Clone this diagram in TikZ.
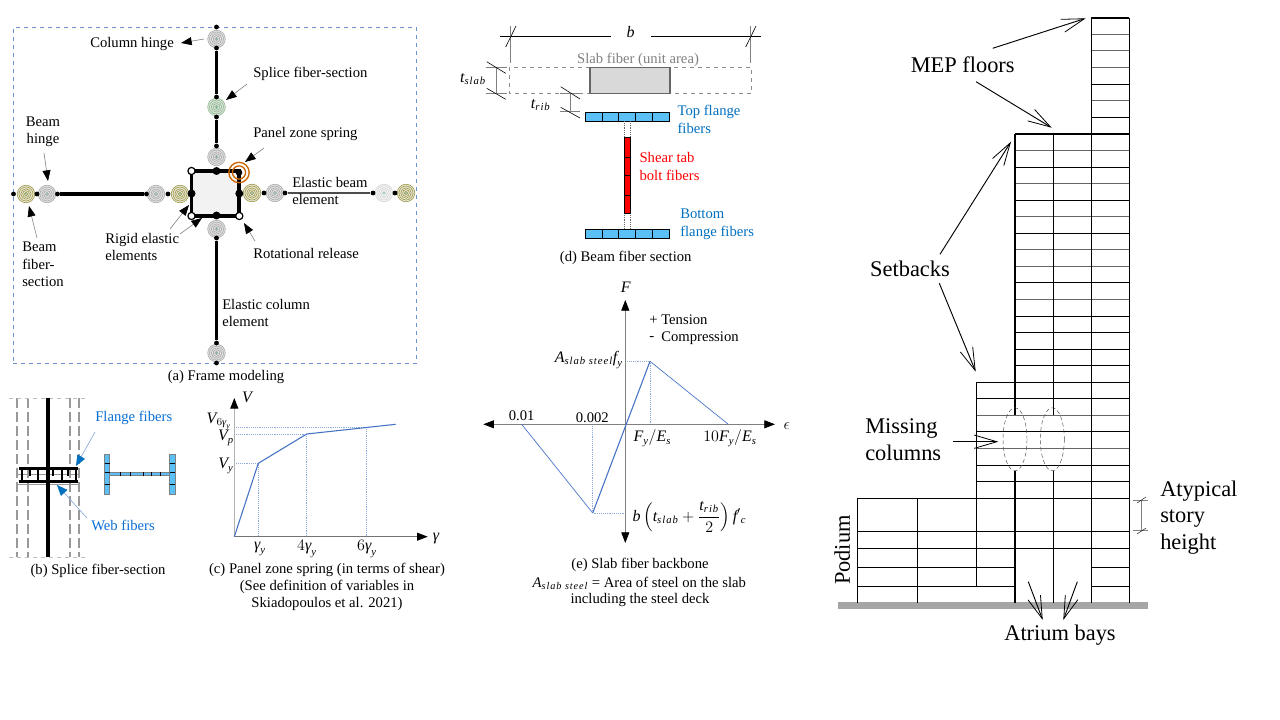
\documentclass[tikz,border=0pt]{standalone}
\usepackage{fontspec}
\usepackage{amsmath}
\setmainfont{Liberation Serif}
\usetikzlibrary{arrows.meta}
\definecolor{axisblue}{HTML}{4472C4}
\definecolor{dotblue}{HTML}{8FAADC}
\definecolor{frameblue}{HTML}{6A8FD8}
\definecolor{fiberblue}{HTML}{5BC0F5}
\definecolor{labelblue}{HTML}{0070C0}
\definecolor{brightblue}{HTML}{0A6FD6}
\newcommand\mv[1]{\text{\itshape #1}}
\newcommand\msb[1]{\text{\itshape\addfontfeature{LetterSpace=9}#1}}
\tikzset{
  x=0.75pt,y=-0.75pt,
  lbl/.style={font=\fontsize{11}{13.3}\selectfont,inner sep=0pt,align=left},
  lblc/.style={font=\fontsize{11}{13}\selectfont,inner sep=0pt,align=center},
  mathl/.style={font=\fontsize{12}{14}\selectfont,inner sep=0pt},
  bigl/.style={font=\fontsize{16.8}{20}\selectfont,inner sep=0pt,align=left},
  dotn/.style={circle,fill=black,inner sep=0pt,minimum size=3.6pt},
  bigdot/.style={circle,fill=black,inner sep=0pt,minimum size=6pt},
  opendot/.style={circle,fill=white,draw=black,line width=0.9pt,inner sep=0pt,minimum size=5.4pt},
  callout/.style={draw=gray,line width=0.45pt,-{Triangle[length=8pt,width=6pt,color=black,fill=black]}},
  bluecall/.style={draw=dotblue,line width=0.5pt,-{Triangle[length=8pt,width=6.5pt,color=labelblue,fill=labelblue]}},
  barb/.style={draw=black,line width=0.7pt,-{Straight Barb[length=17pt,width=10pt,line width=0.6pt]}},
  axisline/.style={draw=gray,line width=0.6pt},
  axistip/.style={-{Triangle[length=8pt,width=6pt,color=black,fill=black]}},
  curve/.style={draw=axisblue,line width=0.8pt},
  thincurve/.style={draw=axisblue,line width=0.5pt},
  dotguide/.style={draw=dotblue,line width=0.4pt,densely dotted},
  dimline/.style={draw=gray,line width=0.6pt},
  slash/.style={draw=black,line width=0.45pt},
  fiberbox/.style={draw=black,line width=0.6pt,fill=fiberblue},
  fibertick/.style={draw=black,line width=0.5pt},
  floorb/.style={draw=black,line width=0.7pt},
  floorg/.style={draw=black!60,line width=0.95pt},
  colline/.style={draw=black,line width=0.8pt},
  frameline/.style={draw=black,line width=2.8pt},
  memberline/.style={draw=black,line width=2.3pt},
}
\newcommand\springat[5]{%
  \node[circle,inner sep=0pt,minimum size=13.2pt,fill=#5] (#1) at (#2,#3) {};
  \foreach \rr in {8.8,7.0,5.2,3.4,1.7} {\draw[#4,line width=0.4pt] (#1) circle[radius=\rr];}
  \fill[teal!60] (#1) circle[radius=0.9];
}
\newcommand\callarrow[4]{%
  \coordinate (#2a) at (#3);
  \coordinate (#2b) at (#4);
  \draw[#1] (#2a) -- (#2b);
}
\begin{document}
\begin{tikzpicture}
\useasboundingbox (0,0) rectangle (1280,720);
\fill[white] (0,0) rectangle (1280,720);

%% ---------- (a) frame modelling ----------
\node[draw=frameblue,dashed,line width=0.8pt,inner sep=0pt,minimum width=302.5pt,minimum height=252pt,anchor=north west] (framebox) at (12.5,27) {};

\node[rectangle,fill=black!5,inner sep=0pt,minimum width=36pt,minimum height=33.75pt] (panel) at (215.3,193.5) {};

\springat{sc1}{216.5}{39}{black!35}{black!12}
\springat{sc2}{216.5}{107}{green!35!black!45}{green!30!black!15}
\springat{sc3}{216.5}{157}{black!35}{black!12}
\springat{sc4}{216.5}{229}{black!35}{black!12}
\springat{sc5}{216.5}{353}{black!35}{black!12}
\springat{sb1}{26}{194}{olive!80!black!75}{yellow!40!black!20}
\springat{sb2}{47}{194}{black!35}{black!12}
\springat{sb3}{156}{194}{black!35}{black!12}
\springat{sb4}{180}{194}{olive!80!black!75}{yellow!40!black!20}
\springat{sb5}{252}{193}{olive!80!black!75}{yellow!40!black!20}
\springat{sb6}{275}{193}{black!35}{black!12}
\springat{sb7}{384}{193}{black!18}{black!4}
\springat{sb8}{406}{193}{olive!80!black!75}{yellow!40!black!20}

\node[dotn] (dc1) at (216.5,27) {};
\node[dotn] (dc2) at (216.5,48) {};
\node[dotn] (dc3) at (216.5,97) {};
\node[dotn] (dc4) at (216.5,117) {};
\node[dotn] (dc5) at (216.5,146) {};
\node[dotn] (dc8) at (216.5,238) {};
\node[dotn] (dc9) at (216.5,343) {};
\node[dotn] (dc10) at (216.5,363) {};
\node[dotn] (db1) at (13.5,194) {};
\node[dotn] (db2) at (37,194) {};
\node[dotn] (db3) at (57.5,194) {};
\node[dotn] (db4) at (146.5,194) {};
\node[dotn] (db5) at (168,194) {};
\node[dotn] (db8) at (264,193) {};
\node[dotn] (db9) at (285,193) {};
\node[dotn] (db10) at (373,193) {};
\node[dotn] (db11) at (395,193) {};

\draw[memberline] (dc2) -- (dc3);
\draw[memberline] (dc4) -- (dc5);
\draw[memberline] (dc8) -- (dc9);
\draw[memberline] (db3) -- (db4);
\draw[memberline,draw=black!70,line width=1.8pt] (db9) -- (db10);

\coordinate (pc4) at (239.3,171);
\coordinate (pc1c) at (191.5,171);
\coordinate (pc2c) at (191.5,216);
\coordinate (pc3c) at (239.3,216);
\draw[frameline] (pc1c) -- (pc4) -- (pc3c) -- (pc2c) -- cycle;
\node[bigdot] (dc6) at (216.5,171) {};
\node[bigdot] (dc7) at (216.5,215.5) {};
\node[bigdot] (db6) at (191.5,193.5) {};
\node[bigdot] (db7) at (239.3,193.5) {};
\node[opendot] (pc1) at (pc1c) {};
\node[opendot] (pc2) at (pc2c) {};
\node[opendot] (pc3) at (pc3c) {};

\coordinate (pz) at (239,172.5);
\foreach \rr in {10.2,6.6} {\draw[orange!80!black,line width=1pt] (pz) circle[radius=\rr];}
\draw[black,line width=1pt] (pz) circle[radius=2.6];

\node[lbl,anchor=west] (tcolh) at (90,44) {Column hinge};
\node[lblc] (tbeamh) at (43,131.5) {Beam\\hinge};
\node[lbl,anchor=west] (tbeamf) at (22,264.5) {Beam\\fiber-\\section};
\node[lbl,anchor=west] (trigid) at (105,247) {Rigid elastic\\elements};
\node[lbl,anchor=west] (tsplice) at (253,74) {Splice fiber-section};
\node[lbl,anchor=west] (tpanel) at (253,134) {Panel zone spring};
\node[lbl,anchor=west] (tebeam) at (292,191) {Elastic beam\\element};
\node[lbl,anchor=west] (trot) at (253,253) {Rotational release};
\node[lbl,anchor=west] (tecol) at (222,313) {Elastic column\\element};
\node[lblc] (capa) at (226,376.5) {(a) Frame modeling};

\callarrow{callout}{ca}{204,39}{181,43}
\callarrow{callout}{cb}{44,153}{48,181}
\callarrow{callout}{cc}{37,238}{29,206}
\callarrow{callout}{cd}{170,229}{189,205}
\callarrow{callout}{ce}{180,234}{202,218}
\callarrow{callout}{cf}{247,84}{226,100}
\callarrow{callout}{cg}{264,148}{245,162}
\callarrow{callout}{ch}{255,241}{244,223}

%% ---------- (b) splice fibre section ----------
\foreach \xx in {17,28,70,79} {\draw[black!40,line width=0.9pt,dash pattern=on 7.5pt off 3pt] (\xx,398) -- (\xx,557);}
\draw[black!25,dashed,line width=0.4pt] (9,398) -- (87,398);
\draw[black!25,dashed,line width=0.4pt] (9,557) -- (87,557);
\draw[black!40,line width=0.7pt] (17,474) -- (79,474) (17,484) -- (79,484);
\foreach \xx in {22,30,38,47,53,62,68,76} {\draw[black,line width=1pt] (\xx,468) -- (\xx,476);}
\foreach \xx in {22,38,62,76} {\draw[black,line width=1pt] (\xx,476) -- (\xx,482);}
\draw[black,line width=3pt] (48,398) -- (48,557);
\draw[black,line width=2.6pt] (19,468.5) -- (78,468.5);
\draw[black,line width=2.6pt] (19,481.5) -- (78,481.5);

\draw[draw=black!50,line width=0.5pt,fill=fiberblue] (104.5,454) rectangle (109.7,494);
\draw[draw=black!50,line width=0.5pt,fill=fiberblue] (169.7,454) rectangle (175.2,494);
\draw[draw=black!50,line width=0.4pt,fill=fiberblue] (109.7,472) rectangle (169.7,475.5);
\foreach \yy in {463,472,484} {\draw[fibertick] (104.5,\yy) -- (109.7,\yy); \draw[fibertick] (169.7,\yy) -- (175.2,\yy);}
\foreach \xx in {120,130,143,151,160} {\draw[fibertick,line width=0.35pt] (\xx,472) -- (\xx,475.5);}

\node[lbl,anchor=west,text=brightblue] (tflange) at (95,417.5) {Flange fibers};
\node[lbl,anchor=west,text=brightblue] (tweb) at (91,525) {Web fibers};
\node[lblc] (capb) at (98,570.5) {(b) Splice fiber-section};
\callarrow{bluecall}{fa}{95,432}{76,466}
\callarrow{bluecall}{fb}{87,518}{57,485}

%% ---------- (c) panel zone spring ----------
\coordinate (co) at (234.3,536.7);
\coordinate (cv) at (234.3,398);
\coordinate (ch) at (427.7,536.7);
\coordinate (cp1) at (258.3,463.3);
\coordinate (cp2) at (306.7,434);
\coordinate (cp3) at (395.7,424.3);
\draw[dotguide] (234.3,463.3) -- (cp1) -- (258.3,536.7);
\draw[dotguide] (234.3,434) -- (cp2) -- (306.7,536.7);
\draw[dotguide] (234.3,427) -- (366.7,427) -- (366.7,536.7);
\draw[draw=black!30,line width=1pt,axistip] (co) -- (cv);
\draw[draw=black!55,line width=0.6pt,axistip] (co) -- (ch);
\draw[curve] (co) -- (cp1) -- (cp2) -- (cp3);

\node[mathl] (lv) at (247,397) {$\mv{V}$};
\node[mathl] (lgam) at (436,539) {$\mv{γ}$};
\node[mathl] (lv6) at (219,421.5) {$\mv{V}_{6\mv{γ}_{\mv{y}}}$};
\node[mathl] (lvp) at (226,438) {$\mv{V}_{\mv{p}}$};
\node[mathl] (lvy) at (226,466) {$\mv{V}_{\mv{y}}$};
\node[mathl] (lg1) at (260,549) {$\mv{γ}_{\mv{y}}$};
\node[mathl] (lg2) at (307,549) {$4\mv{γ}_{\mv{y}}$};
\node[mathl] (lg3) at (367,549) {$6\mv{γ}_{\mv{y}}$};
\node[lblc,font=\fontsize{11}{12.9}\selectfont] (capc) at (327,587) {(c) Panel zone spring (in terms of shear)\\(See definition of variables in\\Skiadopoulos et al. 2021)};

%% ---------- (d) beam fibre section ----------
\draw[black,line width=0.6pt] (500,36) -- (611,36) (651,36) -- (761,36);
\draw[dimline] (510.7,26) -- (510.7,63) (750.7,26) -- (750.7,63);
\draw[slash] (516,26) -- (505.7,47) (756,26) -- (745.7,47);
\node[mathl] (lb) at (630.7,31.7) {$\mv{b}$};

\draw[draw=black!45,line width=0.45pt,dashed] (509.3,67.3) rectangle (751.7,93.3);
\node[draw=black!60,fill=black!15,line width=0.9pt,inner sep=0pt,minimum width=60pt,minimum height=19.5pt] (slabfib) at (630,80.3) {};
\node[lblc,text=black!50] (tslab) at (638,59.5) {Slab fiber (unit area)};

\draw[dimline] (485.7,67.3) -- (506.7,67.3) (485.7,93.3) -- (506.7,93.3) (496,67.3) -- (496,93.3);
\draw[slash] (486.7,61.7) -- (505.7,73.3) (486.7,88.3) -- (505.7,99.3);
\node[mathl] (lts) at (473,79) {$\mv{t}_{\msb{slab}}$};
\draw[dimline] (560,93.3) -- (580,93.3) (560,111.3) -- (580,111.3) (570,93.3) -- (570,111.3);
\draw[slash] (560.7,86.7) -- (580,99) (560.7,107.3) -- (580,118);
\node[mathl] (ltr) at (540.7,105) {$\mv{t}_{\msb{rib}}$};

\draw[fiberbox] (585.3,112.3) rectangle (669,121.3);
\draw[fiberbox] (585.3,229) rectangle (669,238.3);
\foreach \xx in {602,618.7,635.5,652.2} {\draw[fibertick] (\xx,112.3) -- (\xx,121.3); \draw[fibertick] (\xx,229) -- (\xx,238.3);}
\draw[black!60,line width=0.35pt,densely dotted] (624.3,121.3) -- (624.3,137.3) (630,121.3) -- (630,137.3) (624.3,213.3) -- (624.3,229) (630,213.3) -- (630,229);
\draw[draw=black,line width=0.5pt,fill=red] (624.3,137.3) rectangle (630,213.3);
\foreach \yy in {157.3,175.7,195.7} {\draw[fibertick] (624.3,\yy) -- (630,\yy);}

\node[lbl,anchor=west,text=labelblue] (ttop) at (677.3,119.7) {Top flange\\fibers};
\node[lbl,anchor=west,text=red] (tshear) at (639.3,166.5) {Shear tab\\bolt fibers};
\node[lbl,anchor=west,text=labelblue] (tbot) at (680,224) {Bottom\\flange fibers};
\node[lblc] (capd) at (625.7,258) {(d) Beam fiber section};

%% ---------- (e) slab fibre backbone ----------
\coordinate (eo) at (625.3,424.3);
\coordinate (eu) at (625.3,300);
\coordinate (ed) at (625.3,543);
\coordinate (el) at (483.3,424.3);
\coordinate (er) at (775,424.3);
\coordinate (ep1) at (521.7,424.3);
\coordinate (ep2) at (592.7,513);
\coordinate (ep3) at (650,361.3);
\coordinate (ep4) at (728.3,424.3);
\draw[dotguide] (625.3,361.3) -- (ep3) -- (650,424.3);
\draw[dotguide] (592.7,424.3) -- (ep2) -- (625.3,513);
\draw[axisline,axistip] (eo) -- (eu);
\draw[axisline,axistip] (eo) -- (ed);
\draw[axisline,axistip] (eo) -- (el);
\draw[axisline,axistip] (eo) -- (er);
\draw[thincurve] (ep1) -- (ep2);
\draw[curve] (ep2) -- (ep3);
\draw[thincurve] (ep3) -- (ep4);

\node[mathl] (lf) at (625.7,287.7) {$\mv{F}$};
\node[mathl] (leps) at (786.7,425.7) {$\epsilon$};
\node[lbl,anchor=west] (tplus) at (649,320) {+};
\node[lbl,anchor=west] (tten) at (661,320) {Tension};
\node[lbl,anchor=west] (tminus) at (649,338.3) {-};
\node[lbl,anchor=west] (tcomp) at (661,338.3) {Compression};
\node[mathl,anchor=east] (las) at (623,360) {$\mv{A}_{\msb{slab steel}}\mv{f}_{\mv{y}}$};
\node[lblc] (l001) at (521.7,416) {0.01};
\node[lblc] (l0002) at (592.3,417.5) {0.002};
\node[mathl] (lfy) at (652.3,438.3) {$\mv{F}_{\mv{y}}/\mv{E}_{\mv{s}}$};
\node[mathl] (l10fy) at (730,438.3) {$10\mv{F}_{\mv{y}}/\mv{E}_{\mv{s}}$};
\node[mathl,anchor=west] (lbt) at (632.3,516.7) {$\mv{b}\left(\mv{t}_{\msb{slab}}+\dfrac{\mv{t}_{\msb{rib}}}{2}\right)\mv{f}'{}_{\mv{c}}$};
\node[lblc] (cape1) at (640,565) {(e) Slab fiber backbone};
\node[lblc] (cape2) at (639.3,583.3) {$\mv{A}_{\msb{slab steel}}$ = Area of steel on the slab};
\node[lblc] (cape3) at (640,600) {including the steel deck};

%% ---------- (f) building elevation ----------
\fill[black!35] (838.3,601.7) rectangle (1147.7,609.3);

% tower floors
\foreach \yy in {34.3,50.8,67.4,100.5} {\draw[floorg] (1091.3,\yy) -- (1129.3,\yy);}
\foreach \yy in {84,117} {\draw[floorb] (1091.3,\yy) -- (1129.3,\yy);}
% main block floors
\foreach \n/\st in {1/floorg,2/floorb,3/floorg,4/floorb,5/floorg,6/floorb,7/floorg,8/floorg,9/floorb,10/floorg,11/floorb,12/floorb,13/floorb,14/floorb}
  {\draw[\st] (1015,134+16.55*\n) -- (1129.3,134+16.55*\n);}
\foreach \n/\st in {15/floorb,16/floorb,17/floorg,18/floorb,19/floorg,20/floorb,21/floorb}
  {\draw[\st] (976.5,134+16.55*\n) -- (1129.3,134+16.55*\n);}
\foreach \yy in {498.3,531.7,548.3} {\draw[floorb] (857.3,\yy) -- (1129.3,\yy);}
\foreach \yy in {567.7,586} {\draw[floorb] (857.3,\yy) -- (1015,\yy); \draw[floorb] (1091.3,\yy) -- (1129.3,\yy);}

% columns
\draw[colline] (1129.3,17.7) -- (1129.3,603);
\draw[colline] (1091.3,17.7) -- (1091.3,603);
\draw[colline] (1053.3,134) -- (1053.3,415) (1053.3,471) -- (1053.3,603);
\draw[colline] (1015,134) -- (1015,415) (1015,471) -- (1015,603);
\draw[colline] (976.5,382.3) -- (976.5,586);
\draw[colline] (917.3,498.3) -- (917.3,603);
\draw[colline] (857.3,498.3) -- (857.3,603);
\draw[black,line width=1.5pt] (1091.3,17.7) -- (1129.3,17.7);
\draw[black,line width=1.5pt] (1015,134) -- (1129.3,134);

\draw[black!70,line width=0.35pt,densely dashed] (1015,439.3) circle[x radius=12,y radius=31.5];
\draw[black!70,line width=0.35pt,densely dashed] (1052.3,439.3) circle[x radius=12,y radius=31.5];

\draw[dimline] (1141,499.5) -- (1141,531);
\draw[dimline,line width=0.4pt] (1133.3,500) -- (1148.3,500) (1133.3,530.7) -- (1148.3,530.7);
\draw[slash,line width=0.3pt] (1137,503) -- (1146,497) (1137,534) -- (1146,528);

\node[bigl,anchor=center] (tmep) at (962.7,65) {MEP floors};
\node[bigl,anchor=center] (tset) at (910,269) {Setbacks};
\node[bigl,anchor=west] (tmiss) at (865,440) {Missing\\columns};
\node[bigl,anchor=west] (tatyp) at (1160,517.5) {Atypical\\story\\height};
\node[bigl,rotate=90] (tpod) at (842.3,550) {Podium};
\node[bigl,anchor=center] (tatr) at (1060,635) {Atrium bays};

\callarrow{barb}{ba}{992.7,48.3}{1085.7,18.3}
\callarrow{barb}{bb}{976,81.7}{1051.7,127.7}
\callarrow{barb}{bc}{940,254.3}{1011,141.7}
\callarrow{barb}{bd}{939.3,283.3}{975.7,371.7}
\callarrow{barb}{be}{953.3,441.7}{998.3,441.7}
\callarrow{barb}{bf}{1028.3,581.7}{1042.7,620}
\callarrow{barb}{bg}{1077.3,581.7}{1063.3,620}
\end{tikzpicture}
\end{document}
